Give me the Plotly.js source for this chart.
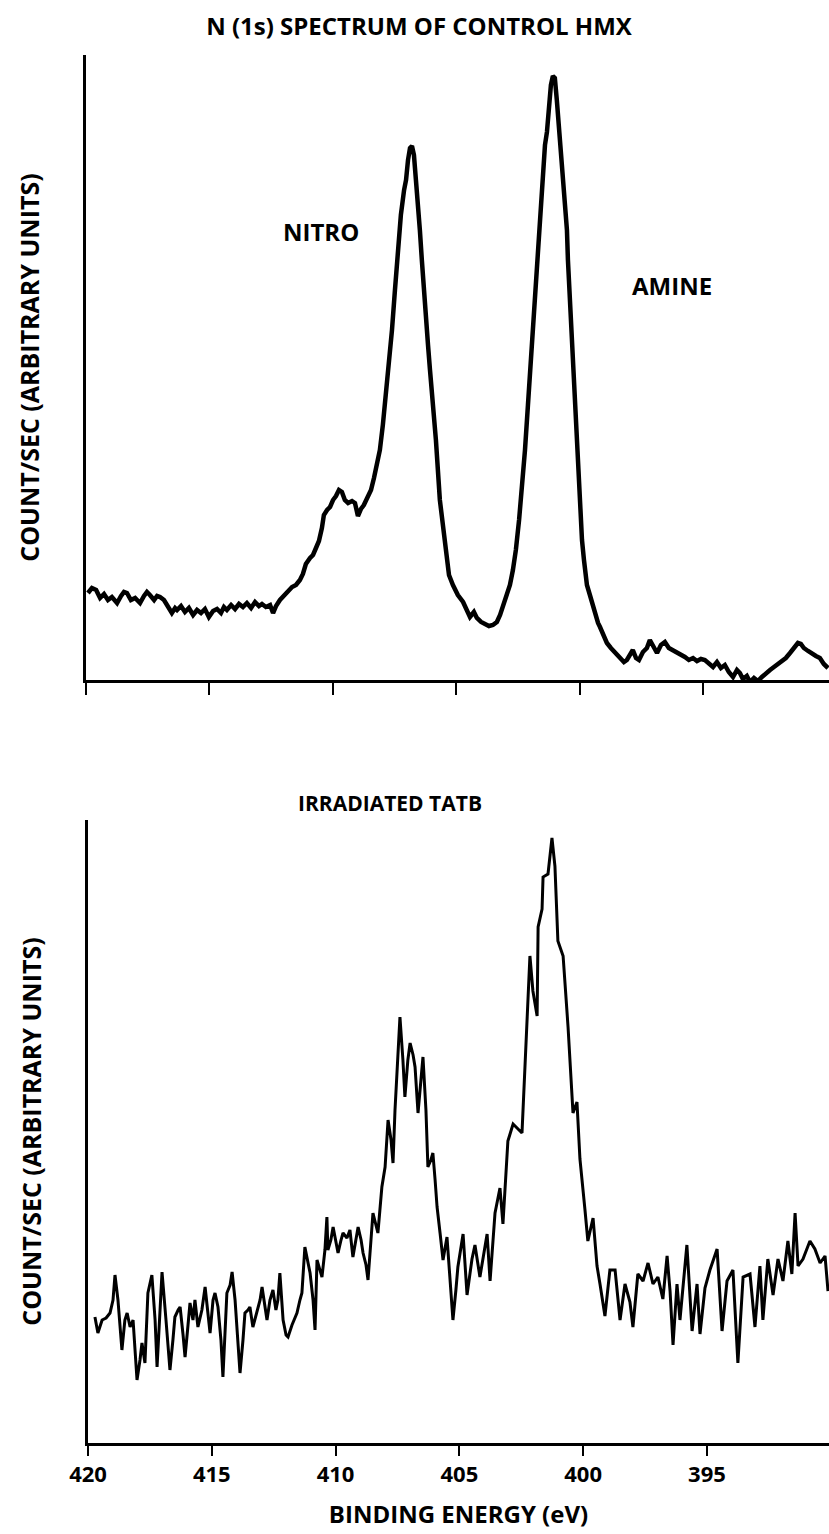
<!DOCTYPE html>
<html>
<head>
<meta charset="utf-8">
<script src="https://cdn.plot.ly/plotly-3.0.1.min.js"></script>
<style>html,body{margin:0;padding:0;background:#fff;}#chart{width:829px;height:1534px;}</style>
</head>
<body>
<div id="chart"></div>
<script>
// ---- Data: N(1s) spectrum of control HMX (binding energy eV, counts arbitrary units)
const hmxEnergy = [419.92,419.76,419.59,419.43,419.27,419.11,418.95,418.74,418.58,418.46,
418.34,418.18,418.01,417.81,417.65,417.53,417.41,417.24,417.12,417.00,
416.84,416.68,416.52,416.39,416.31,416.15,415.99,415.83,415.66,415.50,
415.34,415.18,415.02,414.85,414.69,414.53,414.41,414.29,414.12,413.96,
413.80,413.64,413.48,413.31,413.15,412.99,412.87,412.71,412.54,412.42,
412.30,412.14,411.98,411.81,411.65,411.49,411.33,411.21,411.09,410.92,
410.80,410.68,410.56,410.44,410.36,410.23,410.11,409.99,409.87,409.75,
409.63,409.51,409.38,409.22,409.10,408.98,408.86,408.74,408.57,408.45,
408.33,408.21,408.09,407.97,407.84,407.72,407.60,407.48,407.36,407.24,
407.11,407.03,406.95,406.87,406.79,406.71,406.63,406.55,406.47,406.39,
406.30,406.22,406.14,406.06,405.94,405.82,405.66,405.53,405.41,405.29,
405.13,404.93,404.72,404.56,404.44,404.28,404.16,403.99,403.83,403.67,
403.51,403.35,403.22,403.10,402.94,402.82,402.70,402.58,402.45,402.33,
402.21,402.09,401.97,401.85,401.73,401.60,401.48,401.40,401.32,401.24,
401.16,401.08,401.00,400.92,400.83,400.75,400.67,400.59,400.51,400.47,
400.39,400.31,400.23,400.15,400.06,399.98,399.90,399.82,399.70,399.58,
399.42,399.25,399.17,399.01,398.89,398.73,398.57,398.36,398.20,398.08,
397.96,397.84,397.71,397.59,397.43,397.27,397.15,396.98,396.86,396.70,
396.54,396.38,396.22,396.05,395.89,395.73,395.57,395.40,395.24,395.08,
394.92,394.76,394.59,394.43,394.27,394.11,393.95,393.78,393.62,393.50,
393.38,393.22,393.09,392.93,392.77,392.61,392.45,392.28,392.12,391.96,
391.80,391.64,391.47,391.31,391.15,391.03,390.91,390.74,390.58,390.42,
390.26,390.10,389.93];
const hmxCounts = [87,92,90,82,86,80,83,77,84,88,
87,80,82,77,84,88,85,80,84,83,
80,74,67,72,70,74,68,72,65,70,
67,71,63,69,71,67,73,70,75,71,
76,73,77,72,78,74,76,73,75,67,
74,80,84,89,93,95,100,106,116,122,
125,132,139,152,165,170,173,180,184,190,
188,180,177,179,177,164,171,175,183,190,
202,215,230,255,285,315,350,390,430,465,
490,500,520,532,534,525,500,480,450,420,
385,355,335,310,280,240,180,150,125,105,
95,85,78,68,63,68,62,58,56,54,
55,58,65,75,85,95,110,130,160,190,
230,275,320,370,420,468,510,535,548,570,
595,604,602,580,550,535,510,485,450,420,
380,340,300,260,220,180,140,120,95,85,
70,57,53,43,37,32,28,23,18,20,
25,30,22,20,28,32,40,32,27,35,
38,32,30,28,25,23,20,22,19,21,
20,16,13,18,12,15,8,3,10,7,
1,4,-2,2,-1,3,7,10,13,16,
18,22,27,33,37,36,32,29,26,24,
22,16,12];

// ---- Data: irradiated TATB
const tatbEnergy = [419.72,419.60,419.43,419.27,419.11,418.99,418.91,418.79,418.63,418.51,
418.42,418.30,418.18,418.02,417.90,417.82,417.70,417.58,417.42,417.29,
417.21,417.09,417.01,416.85,416.69,416.57,416.49,416.36,416.28,416.16,
416.08,415.96,415.88,415.76,415.68,415.56,415.40,415.27,415.15,415.07,
414.95,414.87,414.75,414.63,414.55,414.47,414.39,414.26,414.18,414.06,
413.98,413.86,413.74,413.66,413.54,413.46,413.34,413.17,413.05,412.97,
412.85,412.77,412.65,412.53,412.41,412.33,412.25,412.12,412.00,411.92,
411.76,411.56,411.44,411.36,411.24,411.11,411.03,410.91,410.83,410.75,
410.63,410.55,410.43,410.35,410.31,410.19,410.10,409.98,409.90,409.78,
409.70,409.54,409.42,409.30,409.18,409.09,408.97,408.89,408.77,408.69,
408.57,408.49,408.37,408.29,408.21,408.13,408.00,407.88,407.76,407.68,
407.60,407.52,407.40,407.28,407.20,407.08,406.99,406.87,406.79,406.67,
406.59,406.47,406.35,406.27,406.15,406.07,405.98,405.90,405.78,405.66,
405.50,405.38,405.26,405.14,405.06,
404.85,404.69,404.49,404.37,404.17,403.88,403.76,403.56,403.36,403.24,
403.04,402.83,402.47,402.27,402.15,402.03,401.86,401.82,401.66,401.62,
401.42,401.26,401.14,401.02,400.81,400.61,400.45,400.41,400.25,400.13,
399.93,399.81,399.60,399.44,399.32,399.12,398.92,398.71,398.51,398.31,
398.11,397.99,397.79,397.58,397.38,397.18,396.98,396.78,396.61,396.49,
396.37,396.21,396.09,395.81,395.60,395.40,395.28,395.08,394.88,394.59,
394.39,394.19,393.95,393.75,393.54,393.26,393.06,392.86,392.74,392.54,
392.33,392.13,391.93,391.73,391.57,391.44,391.32,391.12,390.84,390.64,
390.43,390.23,390.11];
const tatbCounts = [126,110,123,125,130,143,168,143,93,123,
130,116,123,63,83,100,80,150,168,123,
76,133,171,123,73,103,126,133,136,108,
86,118,140,123,143,116,133,156,128,110,
143,150,136,103,66,113,150,158,171,143,
116,70,103,130,133,136,116,133,143,156,
138,123,143,153,133,143,170,123,108,106,
118,130,143,150,196,178,170,143,113,183,
173,166,193,226,193,203,216,198,190,203,
210,205,213,186,203,216,203,190,178,163,
203,230,218,210,233,256,276,323,303,280,
333,376,426,383,346,383,400,388,376,330,
353,386,333,276,283,290,263,236,210,183,
206,163,123,153,176,
209,148,184,198,166,209,162,230,255,219,
302,319,310,416,487,452,427,516,534,566,
569,605,577,502,487,416,355,330,341,284,
234,202,225,177,159,127,173,173,123,159,
141,116,169,162,180,159,166,144,187,152,
98,159,123,198,112,159,109,155,173,194,
112,162,173,80,166,169,116,177,123,184,
148,184,162,202,169,230,177,184,202,194,
180,187,152];

const tickValues = [420, 415, 410, 405, 400, 395];
const tickLabels = ["420", "415", "410", "405", "400", "395"];
const topTitle = "N (1s) SPECTRUM OF CONTROL HMX";
const bottomTitle = "IRRADIATED TATB";
const yTitle = "COUNT/SEC (ARBITRARY UNITS)";
const xTitle = "BINDING ENERGY (eV)";
const peakLabels = ["NITRO", "AMINE"];

const FONT = "'Open Sans', 'Noto Sans', 'DejaVu Sans', sans-serif";
const W = 829, H = 1534;
const px = v => v / W;
const py = v => 1 - v / H;

const traces = [
  {x: hmxEnergy, y: hmxCounts, type: 'scatter', mode: 'lines', xaxis: 'x', yaxis: 'y',
   line: {color: '#000', width: 4.5}, hoverinfo: 'skip'},
  {x: tatbEnergy, y: tatbCounts, type: 'scatter', mode: 'lines', xaxis: 'x2', yaxis: 'y2',
   line: {color: '#000', width: 3}, hoverinfo: 'skip'}
];

const axisCommon = {showgrid: false, zeroline: false, showline: true, linecolor: '#000', fixedrange: true};

const layout = {
  width: W, height: H,
  margin: {l: 0, r: 0, t: 0, b: 0},
  paper_bgcolor: '#fff', plot_bgcolor: '#fff',
  showlegend: false,
  font: {family: FONT, color: '#000'},
  title: {text: topTitle, x: px(419), y: py(27), xref: 'paper', yref: 'paper', xanchor: 'center', yanchor: 'middle',
          font: {family: FONT, size: 24, weight: 'bold', color: '#000'}},
  xaxis: Object.assign({}, axisCommon, {
    domain: [px(86), 1], range: [420, 389.89], anchor: 'y',
    linewidth: 3, ticks: 'outside', ticklen: 12, tickwidth: 2, tickcolor: '#000',
    tickvals: tickValues, showticklabels: false
  }),
  yaxis: Object.assign({}, axisCommon, {
    domain: [py(680), py(55)], range: [0, 625], anchor: 'x',
    linewidth: 3, ticks: '', showticklabels: false,
    title: {text: yTitle, font: {family: FONT, size: 25, weight: 'bold', color: '#000'}, standoff: 37}
  }),
  xaxis2: Object.assign({}, axisCommon, {
    domain: [px(88), 1], range: [420, 390.07], anchor: 'y2',
    linewidth: 3, ticks: 'outside', ticklen: 10, tickwidth: 2, tickcolor: '#000',
    tickvals: tickValues, ticktext: tickLabels, showticklabels: true,
    tickfont: {family: FONT, size: 22, weight: 'bold', color: '#000'},
    title: {text: xTitle, font: {family: FONT, size: 24, weight: 'bold', color: '#000'}, standoff: 19}
  }),
  yaxis2: Object.assign({}, axisCommon, {
    domain: [py(1443), py(820)], range: [0, 623], anchor: 'x2',
    linewidth: 3, ticks: '', showticklabels: false,
    title: {text: yTitle, font: {family: FONT, size: 25, weight: 'bold', color: '#000'}, standoff: 37}
  }),
  annotations: [
    {text: peakLabels[0], xref: 'paper', yref: 'paper', x: px(321), y: py(232), showarrow: false,
     xanchor: 'center', yanchor: 'middle', font: {family: FONT, size: 24, weight: 'bold', color: '#000'}},
    {text: peakLabels[1], xref: 'paper', yref: 'paper', x: px(672), y: py(285), showarrow: false,
     xanchor: 'center', yanchor: 'middle', font: {family: FONT, size: 24, weight: 'bold', color: '#000'}},
    {text: bottomTitle, xref: 'paper', yref: 'paper', x: px(390), y: py(803), showarrow: false,
     xanchor: 'center', yanchor: 'middle', font: {family: FONT, size: 21, weight: 'bold', color: '#000'}}
  ]
};

Plotly.newPlot('chart', traces, layout, {staticPlot: true, displayModeBar: false});
</script>
</body>
</html>
